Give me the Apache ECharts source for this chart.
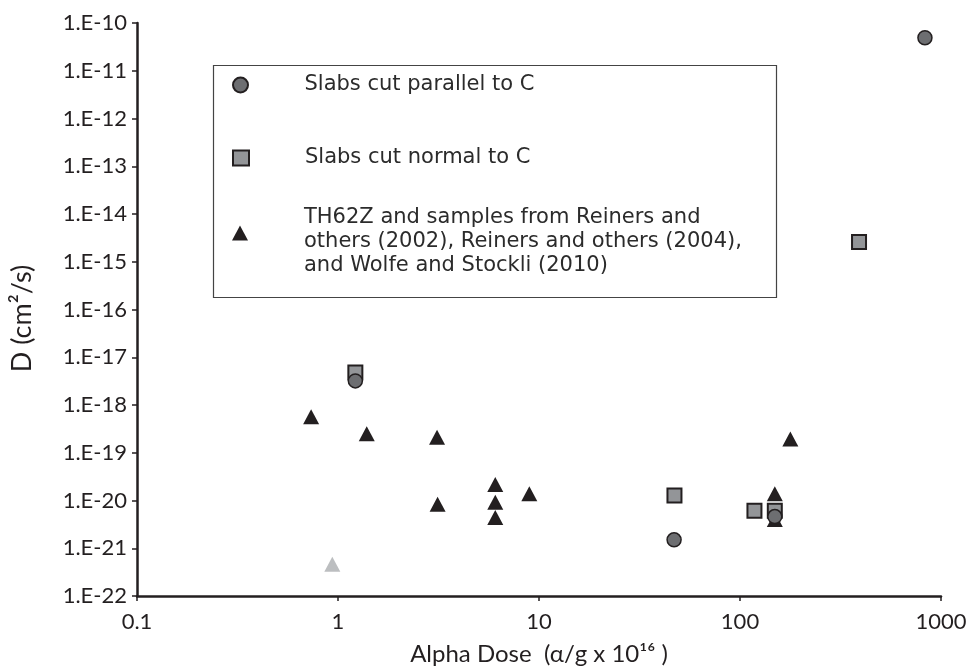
<!DOCTYPE html>
<html>
<head>
<meta charset="utf-8">
<script src="https://cdn.jsdelivr.net/npm/echarts@6/dist/echarts.min.js"></script>
<style>html,body{margin:0;padding:0;background:#fff}#c{width:974px;height:671px}</style>
</head>
<body>
<div id="c"></div>
<script>
// ---- data ----
const seriesNames = [
  'Slabs cut parallel to C',
  'Slabs cut normal to C',
  'TH62Z and samples from Reiners and\nothers (2002), Reiners and others (2004),\nand Wolfe and Stockli (2010)'
];
// [alpha dose (α/g x 10^16), D (cm²/s)]
const parallelData = [[832, 4.9e-11], [1.22, 3.2e-18], [47, 1.5e-21], [149, 4.6e-21]];
const normalData = [[391, 2.6e-15], [1.22, 4.8e-18], [47.2, 1.27e-20], [118, 6.1e-21], [149, 6.1e-21]];
const otherData = [[0.735, 5.7e-19], [1.39, 2.5e-19], [3.11, 2.1e-19], [3.13, 8.3e-21], [6.06, 2.16e-20],
  [6.06, 9.2e-21], [6.06, 4.4e-21], [8.95, 1.38e-20], [178, 1.95e-19], [149, 1.38e-20], [149, 4.0e-21]];
const grayData = [[0.937, 4.6e-22]];
const xTickLabels = ['0.1', '1', '10', '100', '1000'];           // 10^-1 .. 10^3
const yTickLabels = ['1.E-22', '1.E-21', '1.E-20', '1.E-19', '1.E-18', '1.E-17', '1.E-16',
  '1.E-15', '1.E-14', '1.E-13', '1.E-12', '1.E-11', '1.E-10'];   // 10^-22 .. 10^-10
const xTitle = 'Alpha Dose  (\u03b1/g x 10\u00b9\u2076 )';
const yTitle = 'D (cm\u00b2/s)';

// The log axis cannot round values as small as 1e-22, so D is plotted in units of 1e-22 cm²/s
// (axis 1 .. 1e12) and the tick labels keep the original notation.
const Y_UNIT = 1e-22;
const toPlot = arr => arr.map(p => [p[0], p[1] / Y_UNIT]);

const ink = '#231f20';
const tickFont = 'Lato, "Open Sans", sans-serif';
const legFont = '"DejaVu Sans", sans-serif';

function expOf(v) { return Math.round(Math.log10(v)); }

const chart = echarts.init(document.getElementById('c'), null, {renderer: 'canvas'});
const legText = {fontFamily: legFont, fontSize: 21, color: '#2b2b2b', lineHeight: 24};
const legendCommon = {
  orient: 'vertical', left: 232, padding: 0, itemWidth: 16, itemHeight: 15,
  selectedMode: false,
  textStyle: Object.assign({}, legText, {padding: [0, 0, 0, 51]})
};
chart.setOption({
  animation: false,
  backgroundColor: '#fff',
  grid: {left: 137, right: 33, top: 23, bottom: 74, containLabel: false},
  graphic: [{
    type: 'rect', shape: {x: 213.5, y: 65.5, width: 563, height: 232},
    style: {fill: 'none', stroke: '#444', lineWidth: 1.2}, z: 1
  }],
  legend: [
    Object.assign({}, legendCommon, {top: 73, data: [seriesNames[0]]}),
    Object.assign({}, legendCommon, {top: 146, data: [seriesNames[1]]}),
    Object.assign({}, legendCommon, {
      top: 188, data: [seriesNames[2]],
      formatter: name => '{s| }\n' + name.split('\n').map(l => '{t|' + l + '}').join('\n'),
      textStyle: Object.assign({}, legendCommon.textStyle, {
        rich: {
          s: Object.assign({}, legText, {fontSize: 10, lineHeight: 18}),
          t: Object.assign({}, legText)
        }
      })
    })
  ],
  xAxis: {
    type: 'log', logBase: 10, min: 0.1, max: 1000, interval: 1,
    axisLine: {lineStyle: {color: ink, width: 2.5}},
    axisTick: {show: true, length: 5, lineStyle: {color: ink, width: 1.5}},
    minorTick: {show: false}, splitLine: {show: false},
    axisLabel: {
      margin: 15, fontFamily: tickFont, fontSize: 22, color: ink,
      formatter: v => xTickLabels[expOf(v) + 1]
    },
    name: xTitle, nameLocation: 'middle', nameGap: 46,
    nameTextStyle: {fontFamily: tickFont, fontSize: 24, color: ink}
  },
  yAxis: {
    type: 'log', logBase: 10, min: 1, max: 1e12, interval: 1,
    axisLine: {lineStyle: {color: ink, width: 2.5}},
    axisTick: {show: true, length: 5, lineStyle: {color: ink, width: 1.5}},
    minorTick: {show: false}, splitLine: {show: false},
    axisLabel: {
      margin: 10, fontFamily: tickFont, fontSize: 22, color: ink,
      formatter: v => yTickLabels[expOf(v)]
    },
    name: yTitle, nameLocation: 'middle', nameGap: 101, nameRotate: 90,
    nameTextStyle: {fontFamily: tickFont, fontSize: 27, color: ink, padding: [0, 18, 0, 0]}
  },
  series: [
    {
      name: seriesNames[2], type: 'scatter', data: toPlot(otherData), symbol: 'triangle', symbolSize: [16, 15],
      itemStyle: {color: ink, opacity: 1}, z: 2
    },
    {
      name: 'gray', type: 'scatter', data: toPlot(grayData), symbol: 'triangle', symbolSize: [16, 15],
      itemStyle: {color: '#bcbec0', opacity: 1}, z: 2
    },
    {
      name: seriesNames[1], type: 'scatter', data: toPlot(normalData), symbol: 'rect', symbolSize: 14,
      itemStyle: {color: '#939598', borderColor: ink, borderWidth: 2, opacity: 1}, z: 3
    },
    {
      name: seriesNames[0], type: 'scatter', data: toPlot(parallelData), symbol: 'circle', symbolSize: 14,
      itemStyle: {color: '#6d6e71', borderColor: ink, borderWidth: 1.5, opacity: 1}, z: 4
    }
  ]
});
</script>
</body>
</html>
